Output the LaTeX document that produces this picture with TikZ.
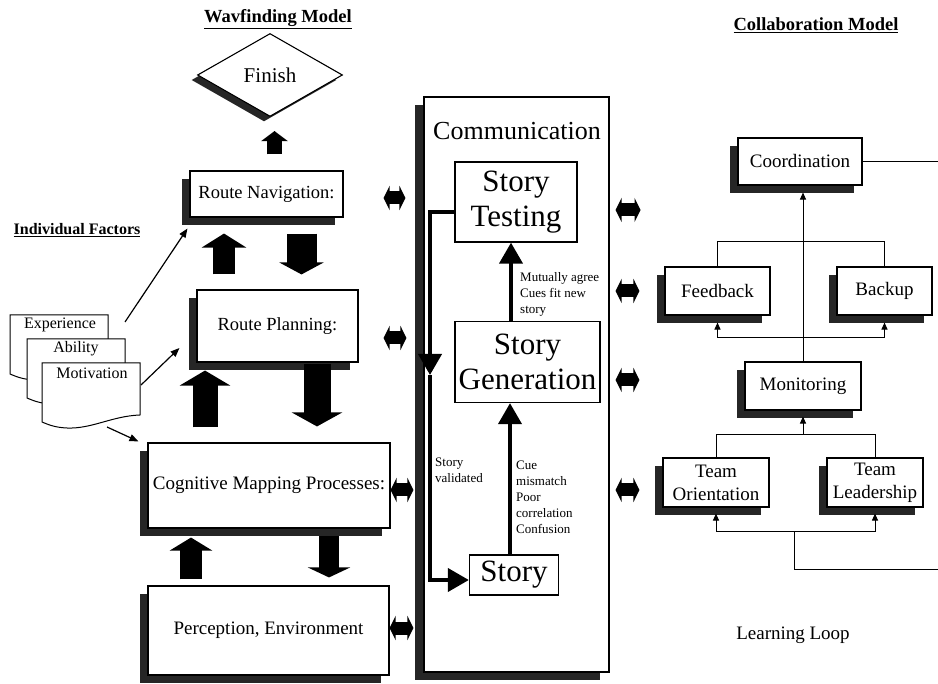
\documentclass[tikz,border=0pt]{standalone}
\usepackage{fontspec}
\setmainfont{Liberation Serif}
\usetikzlibrary{shapes.geometric,arrows.meta,shadows,calc}
\newcommand\fsz[2]{\fontsize{#1}{#2}\selectfont}
% a sheet of paper with a wavy lower edge, top-left corner at (#1,#2)
\newcommand\docpage[2]{%
  \draw[line width=1pt, fill=white] (#1,#2) -- (#1+98,#2) -- (#1+98,#2+52)
    .. controls (#1+70,#2+53) and (#1+50,#2+66) .. (#1+25,#2+65)
    .. controls (#1+12,#2+64.5) and (#1+5,#2+61) .. (#1,#2+59) -- cycle;}
\begin{document}
\begin{tikzpicture}[x=1pt,y=-1pt,
  shd/.style={drop shadow={shadow xshift=-8pt,shadow yshift=-8pt,fill=black!85,opacity=1}},
  box/.style={draw, fill=white, line width=1.1pt, inner sep=2pt, align=center},
  wbox/.style={box, shd},
  sbox/.style={draw, fill=white, line width=1.3pt, inner sep=2pt, align=center, font=\fsz{31}{35}},
  cbox/.style={box, shd, font=\fsz{19}{23}},
  title/.style={font=\fsz{18.5}{22}\bfseries},
  barrow/.style n args={3}{line width=#1pt, -{Triangle[width=#2pt,length=#3pt]}},
  biarrow/.style={line width=13pt, {Triangle[width=24pt,length=6pt]}-{Triangle[width=24pt,length=6pt]}},
  docarr/.style={line width=1.2pt, -{Triangle[width=7pt,length=9pt]}},
  starr/.style={line width=4pt, -{Triangle[width=23pt,length=21pt]}},
  thinarr/.style={line width=1pt, -{Triangle[width=6pt,length=7pt]}},
  thinline/.style={line width=1pt},
  lbl/.style={inner sep=0pt, align=left, font=\fsz{13}{16}}
]
\useasboundingbox (0,0) rectangle (938,684);
\fill[white] (0,0) rectangle (938,684);

% ---------------- Wayfinding model ----------------
\node[title] (wtitle) at (278,19) {\underline{Wavfinding Model}};
\node[diamond, draw, fill=white, line width=1.1pt, inner sep=0pt,
      minimum width=145pt, minimum height=83pt, font=\fsz{21}{24},
      drop shadow={shadow xshift=-6pt,shadow yshift=-5pt,fill=black!85,opacity=1}]
      (finish) at (270,75) {Finish};

\node[wbox, minimum width=153pt, minimum height=46pt, font=\fsz{18.5}{22}] (rn) at (266.5,194) {Route Navigation:};
\node[wbox, minimum width=161pt, minimum height=72pt, font=\fsz{18.5}{22}] (rp) at (277.5,326) {Route Planning:};
\node[wbox, minimum width=242pt, minimum height=85pt, font=\fsz{19}{22}] (cm) at (269,485.5) {Cognitive Mapping Processes:};
\node[wbox, minimum width=241pt, minimum height=89pt, font=\fsz{19}{22}] (pe) at (268.5,630.5) {Perception, Environment};

% block arrows between the stages
\draw[barrow={15}{26}{10}, shorten >=14pt] ([xshift=8pt,yshift=16pt]rn.north) coordinate (a0) -- (a0 |- finish.south);
\draw[barrow={22}{44}{14}, shorten >=16pt] ([xshift=-53.5pt,yshift=15pt]rp.north) coordinate (a1) -- (a1 |- rn.south);
\draw[barrow={30}{44}{12}, shorten >=15pt] ([xshift=35pt,yshift=-16pt]rn.south) coordinate (a2) -- (a2 |- rp.north);
\draw[barrow={25}{50}{15}, shorten >=8pt] ([xshift=-64pt,yshift=15pt]cm.north) coordinate (a3) -- (a3 |- rp.south);
\draw[barrow={27}{50}{14}, shorten >=16pt] ([xshift=39.5pt,yshift=-1pt]rp.south) coordinate (a4) -- (a4 |- cm.north);
\draw[barrow={22}{42}{13}, shorten >=9pt] ([xshift=-77.5pt,yshift=6pt]pe.north) coordinate (a5) -- (a5 |- cm.south);
\draw[barrow={20}{42}{10}, shorten >=8pt] ([xshift=60pt,yshift=-7pt]cm.south) coordinate (a6) -- (a6 |- pe.north);

% ---------------- Individual factors ----------------
\node[font=\fsz{16}{19}\bfseries] (indiv) at (77,230) {\underline{Individual Factors}};
\docpage{10}{315}
\docpage{27}{339}
\docpage{42}{363}
\node[font=\fsz{16}{19}] (dexp) at (60,325) {Experience};
\node[font=\fsz{16}{19}] (dabl) at (76,349) {Ability};
\node[font=\fsz{16}{19}] (dmot) at (92,373) {Motivation};
\coordinate (f1) at (125,322);
\coordinate (f2) at (141,385);
\coordinate (f3) at (107,427);
\draw[docarr] (f1) -- ($(rn.south west)+(-2,11)$);
\draw[docarr] (f2) -- ($(rp.west)+(-17,22)$);
\draw[docarr] (f3) -- ($(cm.north west)+(-9,-1)$);

% ---------------- Communication ----------------
\node[draw, fill=white, line width=1.1pt, minimum width=185pt, minimum height=575pt,
      drop shadow={shadow xshift=-9pt,shadow yshift=-8pt,fill=black!85,opacity=1}]
      (comm) at (516.5,384.5) {};
\node[font=\fsz{26}{30}] (commlbl) at (517,131) {Communication};
\node[sbox, minimum width=122pt, minimum height=80pt] (st) at (516,202) {Story\\Testing};
\node[sbox, minimum width=145pt, minimum height=81pt] (sg) at (527.5,362) {Story\\Generation};
\node[sbox, minimum width=89pt, minimum height=40pt] (sy) at (514,575) {Story};

\draw[starr] ([xshift=-4pt]sy.north) coordinate (s1) -- (s1 |- sg.south);
\draw[starr] ([xshift=-16.5pt]sg.north) coordinate (s2) -- (s2 |- st.south);
\coordinate (lp) at (430,375);
\draw[starr, line cap=butt] ([yshift=-10pt]st.west) -| (lp);
\draw[starr] (lp) |- ([yshift=-5pt]sy.west);

\node[lbl, anchor=west] (lagree) at (520,294) {Mutually agree\\Cues fit new\\story};
\node[lbl, anchor=west] (lcue) at (516,497) {Cue\\mismatch\\Poor\\correlation\\Confusion};
\node[lbl, anchor=west] (lvalid) at (435,470) {Story\\validated};

% links between the wayfinding stages and communication
\draw[biarrow, shorten <=40pt, shorten >=18pt] ([yshift=-4pt]rn.east) -- ([yshift=-4pt]rn.east -| comm.west);
\draw[biarrow, shorten <=25pt, shorten >=17pt] ([yshift=-12pt]rp.east) -- ([yshift=-12pt]rp.east -| comm.west);
\draw[biarrow, shorten <=0pt, shorten >=10pt] ([yshift=-4.5pt]cm.east) -- ([yshift=-4.5pt]cm.east -| comm.west);
\draw[biarrow, shorten <=0pt, shorten >=10pt] ([yshift=2.5pt]pe.east) -- ([yshift=2.5pt]pe.east -| comm.west);

% ---------------- Collaboration model ----------------
\node[title] (ctitle) at (816,25) {\underline{Collaboration Model}};
\node[cbox, minimum width=124pt, minimum height=47pt] (coord) at (800,161.5) {Coordination};
\node[cbox, minimum width=105pt, minimum height=48pt] (fb) at (717.5,291) {Feedback};
\node[cbox, minimum width=95pt, minimum height=48pt] (bk) at (884.5,291) {Backup};
\node[cbox, minimum width=116pt, minimum height=48pt] (mon) at (803,386) {Monitoring};
\node[cbox, minimum width=106pt, minimum height=49pt] (to) at (716,482.5) {Team\\Orientation};
\node[cbox, minimum width=96pt, minimum height=49pt] (tl) at (875,482.5) {Team\\Leadership};
\node[font=\fsz{19}{22}] (learn) at (793,635) {Learning Loop};

% links between communication and collaboration
\draw[biarrow] ([xshift=6pt,yshift=174.5pt]comm.east) -- ++(25,0);
\draw[biarrow, shorten <=6pt, shorten >=25pt] (fb.west -| comm.east) -- (fb.west);
\draw[biarrow, shorten <=6pt, shorten >=105pt] ([yshift=6pt]mon.west -| comm.east) -- ([yshift=6pt]mon.west);
\draw[biarrow, shorten <=6pt, shorten >=23pt] ([yshift=-7.5pt]to.west -| comm.east) -- ([yshift=-7.5pt]to.west);

% collaboration connectors
\coordinate (e1) at (938,161.5);
\coordinate (e2) at (938,570);
\draw[thinline] (coord.east) -- (e1);
\draw[thinarr] (mon.north) -- ($(mon.north |- coord.south)+(0,7)$);
\draw[thinline] (fb.north) -- ++(0,-25) -| (bk.north);
\coordinate (j1) at ($(mon.north)+(0,-24)$);
\draw[thinarr] (j1 -| mon.north) -| ($(fb.south)+(0,7)$);
\draw[thinarr] (j1 -| mon.north) -| ($(bk.south)+(0,7)$);
\coordinate (j2) at ($(mon.north |- to.north)+(0,-23)$);
\draw[thinarr] (j2) -- ($(mon.south)+(0,6)$);
\draw[thinline] (to.north) -- ++(0,-23) -| (tl.north);
\coordinate (j3) at ($(to.south)+(78,24)$);
\draw[thinarr] (j3) -| ($(to.south)+(0,6)$);
\draw[thinarr] (j3) -| ($(tl.south)+(0,6)$);
\draw[thinline] (j3) |- (e2);
\end{tikzpicture}
\end{document}
